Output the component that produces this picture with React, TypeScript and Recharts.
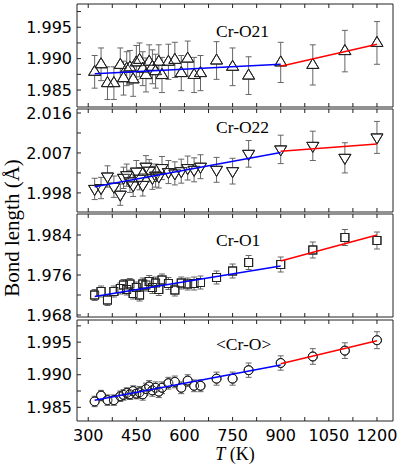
import React from "react";
import { ScatterChart, Scatter, XAxis, YAxis, ErrorBar, ReferenceArea } from "recharts";

// temperatures (K) shared by all four panels
const temps = [
  320, 340, 360, 380, 400, 410, 420, 430, 440, 450, 460, 470, 480, 490, 500,
  510, 520, 530, 550, 570, 590, 610, 630, 650, 700, 750, 800, 900, 1000, 1100,
  1200,
];

// bond lengths (Å)
const crO21 = [
  1.9879, 1.9891, 1.9861, 1.9861, 1.989, 1.9869, 1.9884, 1.9886, 1.9867, 1.9894,
  1.9898, 1.9884, 1.9874, 1.9895, 1.9887, 1.988, 1.9895, 1.9874, 1.9895, 1.9898,
  1.9877, 1.99, 1.9874, 1.9877, 1.9897, 1.9887, 1.9873, 1.9894, 1.989, 1.9912,
  1.9925,
];
const crO22 = [
  1.9989, 1.9991, 2.0017, 1.9994, 1.9976, 2.0014, 2.002, 2.0006, 1.9997, 2.0028,
  2.0012, 1.9998, 2.0039, 2.003, 2.0014, 2.0019, 2.0017, 2.0036, 2.0027, 2.0024,
  2.0029, 2.0036, 2.0032, 2.0039, 2.0032, 2.0029, 2.0068, 2.0078, 2.0086, 2.0059,
  2.0105,
];
const crO1 = [
  1.972, 1.9727, 1.971, 1.9727, 1.9733, 1.974, 1.9731, 1.9742, 1.9723, 1.9735,
  1.972, 1.9742, 1.974, 1.9747, 1.9735, 1.9744, 1.9731, 1.975, 1.9743, 1.973,
  1.9744, 1.9742, 1.9743, 1.9745, 1.9755, 1.9768, 1.9785, 1.9781, 1.981, 1.9835,
  1.9829,
];
const crOMean = [
  1.9859, 1.9868, 1.9861, 1.9861, 1.9867, 1.9869, 1.9872, 1.987, 1.9875, 1.9871,
  1.9873, 1.987, 1.9878, 1.9882, 1.9876, 1.988, 1.9874, 1.988, 1.9887, 1.9889,
  1.988, 1.9891, 1.9883, 1.9883, 1.9894, 1.9894, 1.9907, 1.9918, 1.9928, 1.9937,
  1.9953,
];

// error half-widths (Å)
const errO21 = [
  0.0026, 0.0026, 0.0026, 0.0026, 0.0027, 0.0027, 0.0027, 0.0027, 0.0027, 0.0027,
  0.0027, 0.0027, 0.0027, 0.0027, 0.0027, 0.0027, 0.0027, 0.0028, 0.0028, 0.0028,
  0.0028, 0.0028, 0.0028, 0.0028, 0.003, 0.003, 0.003, 0.0032, 0.0032, 0.0033,
  0.0034,
];
const errO22 = [
  0.0024, 0.0024, 0.0024, 0.0024, 0.0024, 0.0024, 0.0025, 0.0025, 0.0025, 0.0025,
  0.0025, 0.0025, 0.0025, 0.0025, 0.0026, 0.0026, 0.0026, 0.0026, 0.0026, 0.0026,
  0.0027, 0.0027, 0.0027, 0.0027, 0.0028, 0.0029, 0.003, 0.0032, 0.0033, 0.0034,
  0.0036,
];
const errO1 = [
  0.0011, 0.0011, 0.0011, 0.0011, 0.0011, 0.0011, 0.0011, 0.0011, 0.0011, 0.0011,
  0.0012, 0.0012, 0.0012, 0.0012, 0.0012, 0.0012, 0.0012, 0.0012, 0.0012, 0.0012,
  0.0012, 0.0012, 0.0013, 0.0013, 0.0013, 0.0014, 0.0014, 0.0015, 0.0016, 0.0016,
  0.0017,
];
const errMean = [
  0.0008, 0.0008, 0.0008, 0.0008, 0.0008, 0.0008, 0.0008, 0.0008, 0.0008, 0.0008,
  0.0009, 0.0009, 0.0009, 0.0009, 0.0009, 0.0009, 0.0009, 0.0009, 0.0009, 0.0009,
  0.0009, 0.0009, 0.0009, 0.0009, 0.001, 0.001, 0.0011, 0.0011, 0.0012, 0.0012,
  0.0013,
];

// linear fits: blue below 900 K, red above
const blueT = [320, 900];
const redT = [900, 1200];
const blueO21 = [1.9876, 1.9891];
const redO21 = [1.9888, 1.9923];
const blueO22 = [1.9994, 2.0071];
const redO22 = [2.0074, 2.009];
const blueO1 = [1.9717, 1.9778];
const redO1 = [1.9788, 1.984];
const blueMean = [1.9861, 1.9915];
const redMean = [1.9917, 1.9952];

const xTicks = [300, 375, 450, 525, 600, 675, 750, 825, 900, 975, 1050, 1125, 1200];
const xLabels = [300, 450, 600, 750, 900, 1050, 1200];

const X_DOMAIN: [number, number] = [265, 1250];
const AXIS = "#222";
const TICK_LEN = 4;

type Shape = "up" | "down" | "square" | "circle";

function marker(kind: Shape, fill: string) {
  return (p: any) => {
    const { cx, cy } = p;
    if (cx == null || cy == null) return <g />;
    const common = { fill, stroke: "#222", strokeWidth: 1 };
    if (kind === "up")
      return <path d={`M${cx},${cy - 6.5}L${cx + 6},${cy + 3.5}L${cx - 6},${cy + 3.5}Z`} {...common} />;
    if (kind === "down")
      return <path d={`M${cx},${cy + 6.5}L${cx + 6},${cy - 3.5}L${cx - 6},${cy - 3.5}Z`} {...common} />;
    if (kind === "square") return <rect x={cx - 4} y={cy - 4} width={8} height={8} {...common} />;
    return <circle cx={cx} cy={cy} r={4.5} {...common} />;
  };
}

const noDot = () => <g />;

// y tick: inward mark on the left edge + label for major values
function yTick(labels: number[]) {
  return (p: any) => {
    const { x, y, payload } = p;
    const v = payload.value as number;
    const major = labels.some((m) => Math.abs(m - v) < 1e-7);
    return (
      <g>
        <line x1={x} x2={x + TICK_LEN} y1={y} y2={y} stroke={AXIS} />
        {major && (
          <text x={x - 5} y={y} dy="0.355em" textAnchor="end" fontSize={16} fontFamily="DejaVu Sans" fill="#000">
            {v.toFixed(3)}
          </text>
        )}
      </g>
    );
  };
}

// x tick: inward marks on bottom and top edges + label on the last panel
function xTick(plotH: number, showLabel: boolean) {
  return (p: any) => {
    const { x, y, payload } = p;
    const v = payload.value as number;
    return (
      <g>
        <line x1={x} x2={x} y1={y} y2={y - TICK_LEN} stroke={AXIS} />
        <line x1={x} x2={x} y1={y - plotH} y2={y - plotH + TICK_LEN} stroke={AXIS} />
        {showLabel && xLabels.includes(v) && (
          <text x={x} y={y + 9} dy="0.71em" textAnchor="middle" fontSize={16} fontFamily="DejaVu Sans" fill="#000">
            {v}
          </text>
        )}
      </g>
    );
  };
}

interface PanelProps {
  top: number;
  plotH: number;
  values: number[];
  errors: number[];
  blue: number[];
  red: number[];
  domain: [number, number];
  yTicks: number[];
  yLabels: number[];
  kind: Shape;
  showX?: boolean;
}

function Panel({ top, plotH, values, errors, blue, red, domain, yTicks, yLabels, kind, showX }: PanelProps) {
  const mTop = 12;
  const axisH = showX ? 32 : 1;
  const mBottom = showX ? 0 : 11;
  const points = temps.map((t, i) => ({ t, v: values[i], e: errors[i] }));
  const blueLine = blueT.map((t, i) => ({ t, v: blue[i] }));
  const redLine = redT.map((t, i) => ({ t, v: red[i] }));
  return (
    <div style={{ position: "absolute", left: 0, top: top - mTop }}>
      <ScatterChart
        width={399}
        height={mTop + plotH + mBottom + axisH}
        margin={{ top: mTop, right: 6, bottom: mBottom, left: 0 }}
      >
        <XAxis
          xAxisId="b"
          type="number"
          dataKey="t"
          domain={X_DOMAIN}
          allowDataOverflow
          ticks={xTicks}
          interval={0}
          tick={xTick(plotH, !!showX)}
          height={axisH}
          tickSize={0}
          tickMargin={0}
          tickLine={false}
          axisLine={false}
        />
        <YAxis
          yAxisId="l"
          type="number"
          dataKey="v"
          domain={domain}
          allowDataOverflow
          ticks={yTicks}
          interval={0}
          tick={yTick(yLabels)}
          width={77}
          tickSize={0}
          tickMargin={0}
          tickLine={false}
          axisLine={false}
        />
        <ReferenceArea
          xAxisId="b"
          yAxisId="l"
          x1={X_DOMAIN[0]}
          x2={X_DOMAIN[1]}
          y1={domain[0]}
          y2={domain[1]}
          fill="none"
          fillOpacity={0}
          stroke={AXIS}
          strokeWidth={1}
        />
        <Scatter xAxisId="b" yAxisId="l" data={points} shape={marker(kind, "#fff")} isAnimationActive={false}>
          <ErrorBar dataKey="e" direction="y" width={3} stroke="#666" strokeWidth={1} />
        </Scatter>
        <Scatter xAxisId="b" yAxisId="l" data={points} shape={marker(kind, "none")} isAnimationActive={false} />
        <Scatter
          xAxisId="b"
          yAxisId="l"
          data={blueLine}
          line={{ stroke: "#0000ff", strokeWidth: 1.5 }}
          shape={noDot}
          isAnimationActive={false}
        />
        <Scatter
          xAxisId="b"
          yAxisId="l"
          data={redLine}
          line={{ stroke: "#ff0000", strokeWidth: 1.5 }}
          shape={noDot}
          isAnimationActive={false}
        />
      </ScatterChart>
    </div>
  );
}

export default function App() {
  const serif = "'Liberation Serif', 'Times New Roman', serif";
  return (
    <div style={{ position: "absolute", left: 0, top: 0, width: 399, height: 466, background: "#fff" }}>
      <Panel
        top={4}
        plotH={103}
        values={crO21}
        errors={errO21}
        blue={blueO21}
        red={redO21}
        domain={[1.9823, 1.9987]}
        yTicks={[1.985, 1.9875, 1.99, 1.9925, 1.995, 1.9975]}
        yLabels={[1.985, 1.99, 1.995]}
        kind="up"
      />
      <Panel
        top={109}
        plotH={103}
        values={crO22}
        errors={errO22}
        blue={blueO22}
        red={redO22}
        domain={[1.9937, 2.0169]}
        yTicks={[1.998, 2.0025, 2.007, 2.0115, 2.016]}
        yLabels={[1.998, 2.007, 2.016]}
        kind="down"
      />
      <Panel
        top={214}
        plotH={103}
        values={crO1}
        errors={errO1}
        blue={blueO1}
        red={redO1}
        domain={[1.9676, 1.9882]}
        yTicks={[1.968, 1.972, 1.976, 1.98, 1.984]}
        yLabels={[1.968, 1.976, 1.984]}
        kind="square"
      />
      <Panel
        top={320}
        plotH={101}
        values={crOMean}
        errors={errMean}
        blue={blueMean}
        red={redMean}
        domain={[1.9829, 1.9984]}
        yTicks={[1.985, 1.9875, 1.99, 1.9925, 1.995, 1.9975]}
        yLabels={[1.985, 1.99, 1.995]}
        kind="circle"
        showX
      />
      <svg
        width={399}
        height={466}
        style={{ position: "absolute", left: 0, top: 0, pointerEvents: "none" }}
      >
        <g fontFamily={serif} fontSize={17.5} fill="#000">
          <text x={216} y={37}>Cr-O21</text>
          <text x={216} y={133}>Cr-O22</text>
          <text x={216} y={246}>Cr-O1</text>
          <text x={216} y={350}>&lt;Cr-O&gt;</text>
          <text x={235} y={460} fontSize={18} textAnchor="middle">
            <tspan fontStyle="italic">T</tspan> (K)
          </text>
          <text x={19} y={228} fontSize={21} textAnchor="middle" transform="rotate(-90 19 228)">
            Bond length (Å)
          </text>
        </g>
      </svg>
    </div>
  );
}
